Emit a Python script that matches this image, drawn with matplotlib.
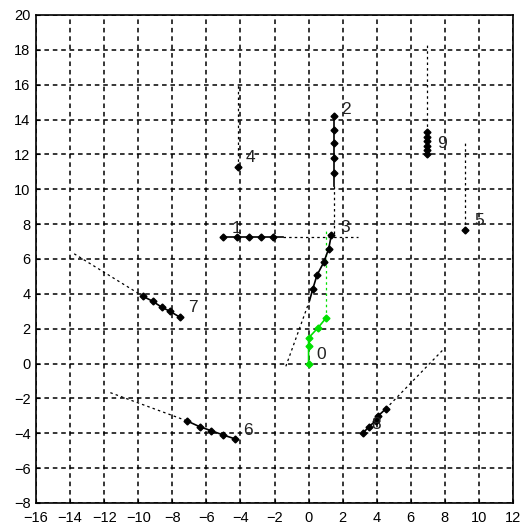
import numpy as np
import matplotlib.pyplot as plt

plt.rcParams['font.family'] = ['Liberation Sans', 'DejaVu Sans']

# track points (markers), newest first
x0 = [0.0, 0.0, 0.0, 0.55, 1.04]
y0 = [0.0, 0.98, 1.47, 2.05, 2.63]
x1 = [-5.04, -4.2, -3.5, -2.8, -2.06]
y1 = [7.26, 7.26, 7.26, 7.26, 7.26]
x2 = [1.47, 1.47, 1.47, 1.47, 1.47]
y2 = [14.2, 13.4, 12.64, 11.82, 10.96]
x3 = [1.34, 1.18, 0.9, 0.49, 0.25]
y3 = [7.39, 6.59, 5.83, 5.06, 4.29]
x4 = [-4.12]
y4 = [11.28]
x5 = [9.2]
y5 = [7.64]
x6 = [-4.29, -5.0, -5.72, -6.4, -7.16]
y6 = [-4.33, -4.1, -3.85, -3.62, -3.28]
x7 = [-7.55, -8.14, -8.63, -9.16, -9.7]
y7 = [2.66, 3.0, 3.24, 3.58, 3.85]
x8 = [3.2, 3.55, 3.94, 4.1, 4.53]
y8 = [-3.98, -3.62, -3.28, -2.99, -2.6]
x9 = [6.98, 6.98, 6.98, 6.98, 6.98, 6.98]
y9 = [12.05, 12.25, 12.5, 12.75, 13.0, 13.3]

# solid tail end and dotted extrapolation end for each track
tail_x = [1.04, -1.5, 1.47, 0.06, -4.12, 9.2, -7.16, -9.7, 4.53, 6.98]
tail_y = [2.63, 7.26, 10.2, 3.62, 11.28, 7.64, -3.28, 3.85, -2.6, 13.3]
ext_x = [1.04, 2.9, 1.47, -1.35, -4.12, 9.2, -11.8, -13.86, 8.0, 6.98]
ext_y = [7.64, 7.26, 7.26, -0.2, 16.0, 12.66, -1.61, 6.36, 0.9, 18.3]

# track id labels
lab_x = [0.75, -4.25, 2.2, 2.15, -3.4, 10.0, -3.55, -6.8, 3.95, 7.85]
lab_y = [0.5, 7.75, 14.6, 7.8, 11.8, 8.2, -3.85, 3.2, -3.5, 12.6]

xs = [x0, x1, x2, x3, x4, x5, x6, x7, x8, x9]
ys = [y0, y1, y2, y3, y4, y5, y6, y7, y8, y9]

fig = plt.figure(figsize=(5.23, 5.31), dpi=100)
ax = fig.add_axes([36/523, 1-503/531, 477/523, 488/531])

for i in range(10):
    c = (0, 0.88, 0) if i == 0 else 'black'
    ax.plot([tail_x[i], ext_x[i]], [tail_y[i], ext_y[i]], color=c, lw=0.9,
            linestyle=(0, (2, 2.5)))
    ax.plot(xs[i] + [tail_x[i]], ys[i] + [tail_y[i]], color=c, lw=1.2)
    ax.plot(xs[i], ys[i], color=c, lw=0, marker='D', ms=3.5)
    ax.text(lab_x[i], lab_y[i], str(i), fontsize=12.5, color='#222222',
            ha='center', va='center')

ax.set_xlim(-16, 12)
ax.set_ylim(-8, 20)
ax.set_xticks(np.arange(-16, 13, 2))
ax.set_yticks(np.arange(-8, 21, 2))
ax.grid(True, color='black', linestyle=(0, (3, 2.5)), lw=1.1)
ax.tick_params(direction='in', length=3, labelsize=10.5, colors='black')
ax.tick_params(axis='x', pad=6)
ax.tick_params(axis='y', pad=4)
for s in ax.spines.values():
    s.set_linewidth(1.2)

fig.savefig('out.png', dpi=100)
